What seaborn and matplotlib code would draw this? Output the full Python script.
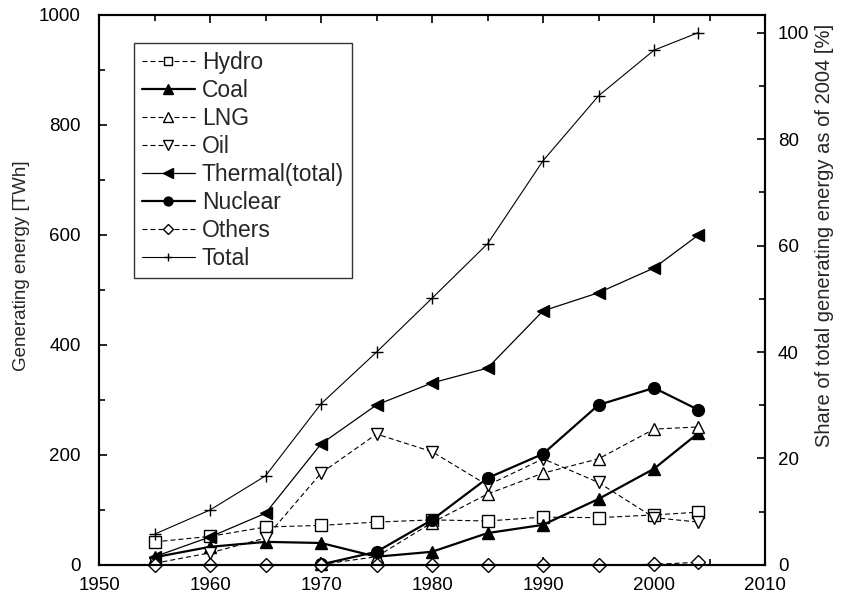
import numpy as np
import pandas as pd
import matplotlib
matplotlib.use('Agg')
import matplotlib.pyplot as plt
import seaborn as sns
from matplotlib.ticker import MultipleLocator

sns.set_theme(style='ticks')
plt.rcParams['font.family'] = ['Liberation Sans', 'DejaVu Sans']

# data (TWh)
years = [1955, 1960, 1965, 1970, 1975, 1980, 1985, 1990, 1995, 2000, 2004]
years_new = [1970, 1975, 1980, 1985, 1990, 1995, 2000, 2004]
hydro = [42, 52, 69, 72, 78, 82, 80, 87, 86, 91, 96]
coal = [14, 33, 42, 40, 15, 24, 58, 73, 120, 175, 240]
lng = [1, 15, 77, 129, 167, 193, 247, 251]
oil = [3, 22, 49, 167, 238, 206, 145, 193, 150, 86, 78]
thermal = [15, 51, 94, 220, 291, 331, 358, 462, 495, 540, 600]
nuclear = [1, 24, 82, 158, 202, 291, 322, 282]
others = [0, 0, 0, 0, 0, 0, 0, 0, 0, 1, 5]
total = [56, 100, 162, 293, 387, 485, 584, 735, 853, 936, 968]

dash = (0, (4.5, 2.7))
series = [
    ('Hydro', years, hydro, dict(ls=dash, lw=0.8, marker='s', mfc='white', ms=8)),
    ('Coal', years, coal, dict(ls='-', lw=1.6, marker='^', mfc='black', ms=9)),
    ('LNG', years_new, lng, dict(ls=dash, lw=0.8, marker='^', mfc='white', ms=9)),
    ('Oil', years, oil, dict(ls=dash, lw=0.8, marker='v', mfc='white', ms=9)),
    ('Thermal(total)', years, thermal, dict(ls='-', lw=0.9, marker='<', mfc='black', ms=9)),
    ('Nuclear', years_new, nuclear, dict(ls='-', lw=1.6, marker='o', mfc='black', ms=8.5)),
    ('Others', years, others, dict(ls=dash, lw=0.8, marker='D', mfc='white', ms=7)),
    ('Total', years, total, dict(ls='-', lw=0.8, marker='+', mfc='black', ms=8)),
]

fig = plt.figure(figsize=(8.42, 5.99), dpi=100)
ax = fig.add_axes([0.1176, 0.0568, 0.791, 0.9182])

for name, xs, ys, st in series:
    sns.lineplot(x=xs, y=ys, ax=ax, color='black', linestyle=st['ls'], linewidth=st['lw'],
                 marker=st['marker'], markersize=st['ms'], markerfacecolor=st['mfc'],
                 markeredgecolor='black', markeredgewidth=1.0, label=name, clip_on=False)

ax.set_xlim(1950, 2010)
ax.set_ylim(0, 1000)
ax.xaxis.set_major_locator(MultipleLocator(10))
ax.xaxis.set_minor_locator(MultipleLocator(5))
ax.yaxis.set_major_locator(MultipleLocator(200))
ax.yaxis.set_minor_locator(MultipleLocator(100))
ax.tick_params(which='both', direction='in', top=True, right=False, labelsize=13.5, colors='black')
ax.tick_params(which='major', length=6, width=1.2)
ax.tick_params(which='minor', length=4, width=1.2)
ax.tick_params(axis='x', pad=8.5)
ax.tick_params(axis='y', pad=13)
ax.set_ylabel('Generating energy [TWh]', fontsize=13.5)
ax.yaxis.set_label_coords(-0.103, 0.545)
for sp in ax.spines.values():
    sp.set_linewidth(1.5)
    sp.set_color('black')

ax2 = ax.twinx()
ax2.set_ylim(0, 100 * 1000 / 968)
ax2.yaxis.set_major_locator(MultipleLocator(20))
ax2.yaxis.set_minor_locator(MultipleLocator(10))
ax2.tick_params(which='both', direction='in', labelsize=13.5, colors='black', pad=9.4)
ax2.tick_params(which='major', length=6, width=1.2)
ax2.tick_params(which='minor', length=4, width=1.2)
ax2.set_ylabel('Share of total generating energy as of 2004 [%]', fontsize=14.5)
ax2.yaxis.set_label_coords(1.075, 0.6)
for sp in ax2.spines.values():
    sp.set_linewidth(1.5)
    sp.set_color('black')

leg = ax.legend(loc='upper left', bbox_to_anchor=(0.0526, 0.949), borderaxespad=0,
                fontsize=16.5, frameon=True, fancybox=False, handlelength=2.3,
                labelspacing=0.22, handletextpad=0.3, borderpad=0.35, markerscale=0.75)
leg.get_frame().set_edgecolor('black')
leg.get_frame().set_linewidth(1.0)

fig.savefig('out.png', dpi=100)
